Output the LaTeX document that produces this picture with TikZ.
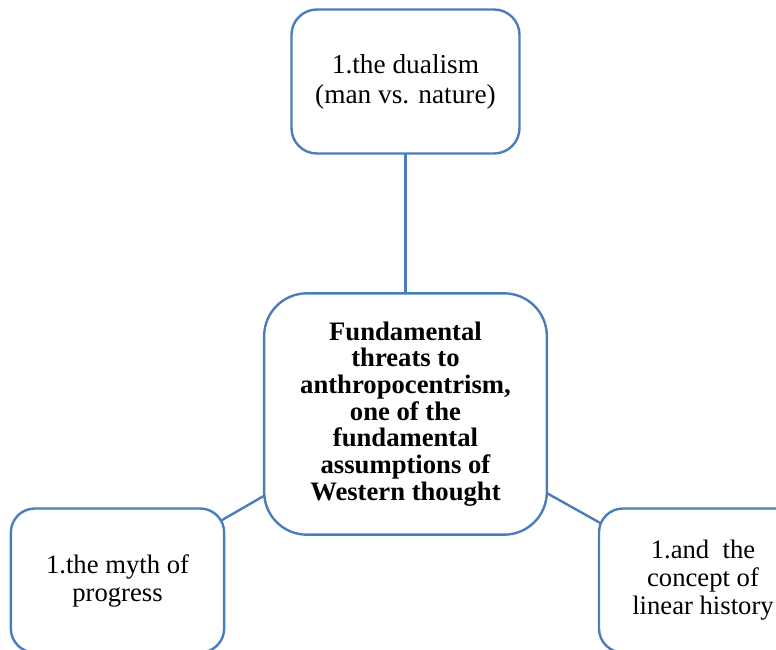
\documentclass[tikz,border=0pt]{standalone}
\usepackage{fontspec}
\setmainfont{Liberation Serif}
\usepackage{tikz}
\usetikzlibrary{positioning,backgrounds}
\definecolor{boxblue}{RGB}{74,126,187}

\begin{document}
\begin{tikzpicture}[
    x=0.75pt, y=-0.75pt,
    font=\fontsize{20.5}{22.5}\selectfont,
    block/.style={
		rectangle,
		rounded corners=19pt,
		draw=boxblue,
		line width=1.8pt,
		text centered,
		align=center,
		minimum width=171pt,
		minimum height=108pt,
		fill=white
	},
	side/.style={
		block,
		rounded corners=18pt,
		minimum width=160pt,
		font=\fontsize{20}{21}\selectfont
	},
	core/.style={
		block,
		rounded corners=32pt,
		minimum width=212pt,
		minimum height=181pt,
		font=\fontsize{20}{20}\selectfont\bfseries
	},
	link/.style={
		draw=boxblue,
		line width=1.8pt
	}
  ]
    % the page is cut at the picture edges
  \clip (0,0) rectangle (776,650);

    % We start by placing the blocks
  \node [block] (dualism) at (405.5,81.5)
 {1.the dualism\\(man vs. nature)};

  \node [core] (threats) at (405.5,414)
 {Fundamental\\threats to\\anthropocentrism,\\one of the\\fundamental\\assumptions of\\Western thought};

  \node [side] (myth) at (117.5,580.5)
 {1.the myth of\\progress};

  \node [side, minimum width=156pt] (history) at (703,580.5)
 {1.and~ the\\concept of\\linear history};

  \begin{scope}[on background layer]
 \draw [link] (threats.center) -- (dualism.center);
 \draw [link] (threats.center) -- (myth.center);
 \draw [link] (threats.center) -- (history.center);
  \end{scope}

\end{tikzpicture}
\end{document}
